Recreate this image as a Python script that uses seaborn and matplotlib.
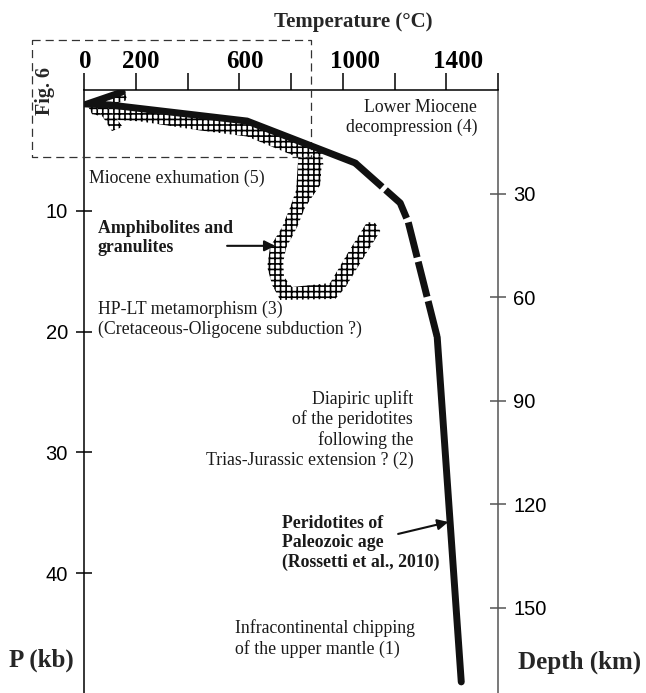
import numpy as np
import pandas as pd
import matplotlib
matplotlib.use("Agg")
import matplotlib.pyplot as plt
import matplotlib.transforms as mtransforms
import seaborn as sns

# ---------------- data ----------------
T_TICKS = [0, 200, 400, 600, 800, 1000, 1200, 1400, 1600]
T_TICK_LABELS = ["0", "200", "", "600", "", "1000", "", "1400", ""]
P_TICKS = [10, 20, 30, 40]
DEPTH_TICKS = [30, 60, 90, 120, 150]
KM_PER_KB = 3.5

# peridotite P-T path (thick line): solid upper, dashed middle, solid lower part
PATH_UPPER_T = [147, 12, 101, 630, 1048]
PATH_UPPER_P = [0.17, 1.16, 1.24, 2.57, 6.04]
PATH_MID_T = [1048, 1222, 1253, 1365]
PATH_MID_P = [6.04, 9.35, 10.93, 20.45]
PATH_LOWER_T = [1365, 1458]
PATH_LOWER_P = [20.45, 49.0]

# cross-hatched P-T fields
EXHUM_T = [15, 139, 449, 630, 835, 920, 925, 835, 630, 449, 217, 139, 31]
EXHUM_P = [1.32, 1.41, 2.24, 2.73, 4.39, 5.13, 6.2, 5.65, 3.85, 3.35, 2.6, 2.5, 2.0]
SPUR_T = [50, 93, 150, 108]
SPUR_P = [1.49, 1.49, 3.05, 3.4]
TIP_T = [93, 159, 166, 108]
TIP_P = [0.66, 0.08, 0.83, 1.24]
LOOP_T = [905, 828, 820, 797, 766, 719, 708, 727, 758, 971, 1009, 1063, 1145, 1125,
          1094, 1017, 951, 804, 773, 770, 781, 824, 855, 913, 920]
LOOP_P = [5.38, 5.63, 8.28, 9.69, 11.34, 13.0, 14.65, 16.14, 17.38, 17.30, 16.39, 14.49, 11.67, 11.01,
          10.93, 13.58, 15.98, 16.31, 15.48, 14.24, 13.08, 11.34, 9.69, 7.86, 5.79]

# annotation anchors (T, P)
LBL_LOWER_MIOCENE = (1520, 2.24)
LBL_MIO_EXHUM = (19, 7.3)
LBL_AMPHI = (54, 12.25)
ARROW_AMPHI = ((553, 12.9), (739, 12.9))
LBL_HPLT = (54, 19.0)
LBL_DIAPIR = (1272, 28.1)
LBL_PERIDOT = (766, 37.5)
ARROW_PERIDOT = ((1214, 36.75), (1408, 35.76))
LBL_INFRA = (584, 45.4)
FIG6_BOX = (-201, -4.14, 878, 5.55)  # T0, P0, T1, P1

# ---------------- style ----------------
sns.set_theme(style="white")
SERIF = ["Liberation Serif", "DejaVu Serif"]
SANS = ["Liberation Sans", "DejaVu Sans"]
plt.rcParams["font.family"] = SERIF
plt.rcParams["hatch.linewidth"] = 1.2
plt.rcParams["hatch.color"] = "black"

fig = plt.figure(figsize=(6.46, 6.93), dpi=100)
W, H = 646, 693
x0, x1, ytop = 84, 498, 90
ax = fig.add_axes([x0 / W, 0.0, (x1 - x0) / W, (H - ytop) / H])
ax.set_facecolor("white")
ax.set_xlim(0, 1600)
ax.set_ylim((H - ytop) / 12.08, 0)

# hatched fields
for tt, pp in [(EXHUM_T, EXHUM_P), (SPUR_T, SPUR_P), (TIP_T, TIP_P), (LOOP_T, LOOP_P)]:
    ax.fill(tt, pp, facecolor="white", edgecolor="black", hatch="+++",
            linewidth=0, zorder=2)

# thick path
dfu = pd.DataFrame({"T": PATH_UPPER_T, "P": PATH_UPPER_P})
dfm = pd.DataFrame({"T": PATH_MID_T, "P": PATH_MID_P})
dfl = pd.DataFrame({"T": PATH_LOWER_T, "P": PATH_LOWER_P})
sns.lineplot(data=dfu, x="T", y="P", sort=False, estimator=None, color="#111111",
             lw=5, ax=ax, zorder=4, solid_joinstyle="miter")
sns.lineplot(data=dfm, x="T", y="P", sort=False, estimator=None, color="#111111",
             lw=5, ax=ax, zorder=4, linestyle=(0, (5.2, 0.65)), dash_capstyle="butt")
sns.lineplot(data=dfl, x="T", y="P", sort=False, estimator=None, color="#111111",
             lw=5, ax=ax, zorder=4)
ax.set_xlabel("")
ax.set_ylabel("")

# dashed Fig. 6 box
bt0, bp0, bt1, bp1 = FIG6_BOX
ax.plot([bt0, bt1, bt1, bt0, bt0], [bp0, bp0, bp1, bp1, bp0], color="#333333",
        lw=0.9, linestyle=(0, (6.5, 4)), clip_on=False, zorder=3)

# axes styling
ax.xaxis.tick_top()
ax.set_xticks(T_TICKS)
ax.set_xticklabels(T_TICK_LABELS, fontsize=18, fontweight="bold", family=SERIF)
ax.tick_params(axis="x", which="major", direction="out", length=12, width=1.1,
               pad=0.5, top=True, bottom=False, labeltop=True, labelbottom=False,
               colors="black")
offs = [0.7, 3.6, 0, 4.3, 0, 8.6, 0, 8.6, 0]
for lab, dx in zip(ax.get_xticklabels(), offs):
    lab.set_transform(lab.get_transform() + mtransforms.ScaledTranslation(dx / 72, 0, fig.dpi_scale_trans))

ax.set_yticks(P_TICKS)
ax.set_yticklabels([str(v) for v in P_TICKS], fontsize=14.5, family=SANS)
ax.tick_params(axis="y", direction="inout", length=11, width=1.1, pad=6,
               left=True, right=False, colors="black")
for s in ["bottom", "right"]:
    ax.spines[s].set_visible(False)
for s in ["top", "left"]:
    ax.spines[s].set_color("black")
    ax.spines[s].set_linewidth(1.1)

sec = ax.secondary_yaxis("right", functions=(lambda p: p * KM_PER_KB, lambda d: d / KM_PER_KB))
sec.set_yticks(DEPTH_TICKS)
sec.set_yticklabels([str(v) for v in DEPTH_TICKS], fontsize=14.5, family=SANS)
sec.tick_params(direction="inout", length=12, width=1.1, pad=5, color="#555555",
                labelcolor="black")
sec.spines["right"].set_color("#555555")
sec.spines["right"].set_linewidth(1.1)

# annotations
TXT = dict(fontsize=12.8, color="#1a1a1a", linespacing=1.2, zorder=5)
ax.text(*LBL_LOWER_MIOCENE, "Lower Miocene\ndecompression (4)", ha="right", va="center",
        multialignment="right", **TXT)
ax.text(*LBL_MIO_EXHUM, "Miocene exhumation (5)", ha="left", va="center", **TXT)
ax.text(*LBL_AMPHI, "Amphibolites and\ngranulites", ha="left", va="center",
        fontweight="bold", **TXT)
ax.text(*LBL_HPLT, "HP-LT metamorphism (3)\n(Cretaceous-Oligocene subduction ?)",
        ha="left", va="center", **TXT)
ax.text(*LBL_DIAPIR, "Diapiric uplift\nof the peridotites\nfollowing the\nTrias-Jurassic extension ? (2)",
        ha="right", va="center", multialignment="right", **TXT)
ax.text(*LBL_PERIDOT, "Peridotites of\nPaleozoic age\n(Rossetti et al., 2010)", ha="left",
        va="center", fontweight="bold", **TXT)
ax.text(*LBL_INFRA, "Infracontinental chipping\nof the upper mantle (1)", ha="left",
        va="center", **TXT)
for (a, b) in [ARROW_AMPHI, ARROW_PERIDOT]:
    ax.annotate("", xy=b, xytext=a,
                arrowprops=dict(arrowstyle="-|>", color="#111111", lw=1.5,
                                mutation_scale=16, shrinkA=0, shrinkB=0), zorder=5)

# axis titles
fig.text(353 / W, 1 - 22 / H, "Temperature (°C)", ha="center", va="center",
         fontsize=15, fontweight="bold", family=SERIF)
fig.text(41 / W, 1 - 660 / H, "P (kb)", ha="center", va="center",
         fontsize=18, fontweight="bold", family=SERIF)
fig.text(580 / W, 1 - 662 / H, "Depth (km)", ha="center", va="center",
         fontsize=18, fontweight="bold", family=SERIF)
fig.text(45 / W, 1 - 91 / H, "Fig. 6", ha="center", va="center", rotation=90,
         fontsize=14.5, fontweight="bold", family=SERIF)

fig.savefig("out.png", dpi=100)
